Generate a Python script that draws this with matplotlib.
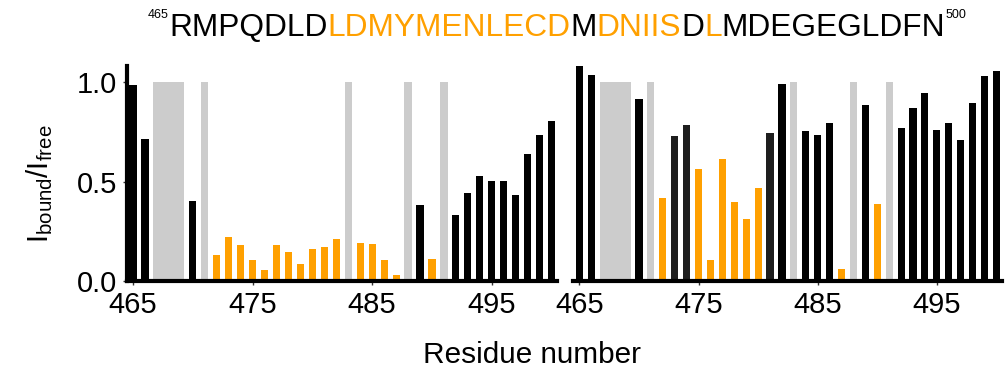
import matplotlib
matplotlib.use("Agg")
import matplotlib.pyplot as plt

plt.rcParams['font.family'] = ['Liberation Sans', 'DejaVu Sans']
plt.rcParams['mathtext.fontset'] = 'custom'
plt.rcParams['mathtext.rm'] = 'Liberation Sans'
plt.rcParams['mathtext.it'] = 'Liberation Sans:italic'

# residues 465-500 and their one-letter codes
residues = list(range(465, 501))
sequence = "RMPQDLDLDMYMENLECDMDNIISDLMDEGEGLDFN"
orange_residues = list(range(472, 483)) + list(range(484, 489)) + [490]

# k = unaffected, d = dark, o = strongly affected, g = no data (drawn full height)
cats_a = ['k', 'k', 'g', 'g', 'g', 'k', 'g', 'o', 'o', 'o', 'o', 'o', 'o', 'o',
          'o', 'o', 'o', 'o', 'g', 'o', 'o', 'o', 'o', 'g', 'k', 'o', 'g', 'k',
          'k', 'k', 'k', 'k', 'k', 'k', 'k', 'k']
ratio_a = [0.985, 0.714, 1.0, 1.0, 1.0, 0.40, 1.0, 0.131, 0.223, 0.179, 0.105,
           0.054, 0.179, 0.147, 0.085, 0.161, 0.172, 0.21, 1.0, 0.193, 0.186,
           0.106, 0.029, 1.0, 0.38, 0.11, 1.0, 0.332, 0.444, 0.526, 0.501,
           0.501, 0.432, 0.638, 0.732, 0.802]

cats_b = ['k', 'k', 'g', 'g', 'g', 'k', 'g', 'o', 'd', 'd', 'o', 'o', 'o', 'o',
          'o', 'o', 'd', 'k', 'g', 'k', 'k', 'k', 'o', 'g', 'k', 'o', 'g', 'k',
          'k', 'k', 'k', 'k', 'k', 'k', 'k', 'k']
ratio_b = [1.08, 1.035, 1.0, 1.0, 1.0, 0.915, 1.0, 0.419, 0.727, 0.782, 0.563,
           0.106, 0.613, 0.399, 0.312, 0.469, 0.745, 0.99, 1.0, 0.752, 0.732,
           0.795, 0.06, 1.0, 0.883, 0.387, 1.0, 0.77, 0.871, 0.946, 0.757,
           0.795, 0.709, 0.896, 1.03, 1.054]

colors = {'k': '#000000', 'd': '#1e1e1e', 'o': '#FFA000', 'g': '#CCCCCC'}
bar_w = 0.6


def draw_panel(ax, vals, cats):
    for c in ['k', 'd', 'o']:
        idx = [i for i, cc in enumerate(cats) if cc == c]
        ax.bar([residues[i] for i in idx], [vals[i] for i in idx],
               width=bar_w, color=colors[c], linewidth=0)
    # consecutive no-data residues are merged into one block
    runs = []
    for i, c in enumerate(cats):
        if c != 'g':
            continue
        if runs and runs[-1][-1] == i - 1:
            runs[-1].append(i)
        else:
            runs.append([i])
    for run in runs:
        r0, r1 = residues[run[0]], residues[run[-1]]
        ax.bar((r0 + r1) / 2, max(vals[i] for i in run), width=r1 - r0 + bar_w,
               color=colors['g'], linewidth=0)
    ax.set_xlim(464.5, 500.45)
    ax.set_ylim(0, 1.08)
    ax.set_xticks([465, 475, 485, 495])
    for s in ['top', 'right']:
        ax.spines[s].set_visible(False)
    ax.spines['bottom'].set_linewidth(3)
    ax.spines['left'].set_linewidth(3)
    ax.tick_params(axis='both', labelsize=21, length=3, width=1, pad=4,
                   color='#333333', labelcolor='black')


fig = plt.figure(figsize=(10.07, 3.68), dpi=100)
ax1 = fig.add_axes([0.1261, 0.2364, 0.427, 0.584])
ax2 = fig.add_axes([0.5695, 0.2364, 0.4253, 0.584])

draw_panel(ax1, ratio_a, cats_a)
draw_panel(ax2, ratio_b, cats_b)

ax1.set_yticks([0, 0.5, 1.0])
ax1.set_yticklabels(['0.0', '0.5', '1.0'])
ax2.spines['left'].set_visible(False)
ax2.set_yticks([])

fig.text(40 / 1007, 0.5014, r'$\mathregular{I_{bound}/I_{free}}$', rotation=90,
         ha='center', va='center', fontsize=21)
fig.text(423 / 1007, 1 - 363 / 368, 'Residue number', ha='left',
         va='baseline', fontsize=21.4)

# sequence header, coloured segment by segment
segments = [('465', 'black', 9, 1 - 18.5 / 368)]
for r, aa in zip(residues, sequence):
    col = '#FFA000' if r in orange_residues else 'black'
    if segments[-1][1] == col and segments[-1][2] == 22.8:
        segments[-1] = (segments[-1][0] + aa, col, 22.8, segments[-1][3])
    else:
        segments.append((aa, col, 22.8, 1 - 35.5 / 368))
segments.append(('500', 'black', 9, 1 - 18.5 / 368))

renderer = fig.canvas.get_renderer()
x = 148 / 1007
for txt, col, size, y in segments:
    t = fig.text(x, y, txt, color=col, fontsize=size, ha='left', va='baseline')
    bb = t.get_window_extent(renderer)
    x += bb.width / fig.bbox.width

fig.savefig('out.png', dpi=100)
